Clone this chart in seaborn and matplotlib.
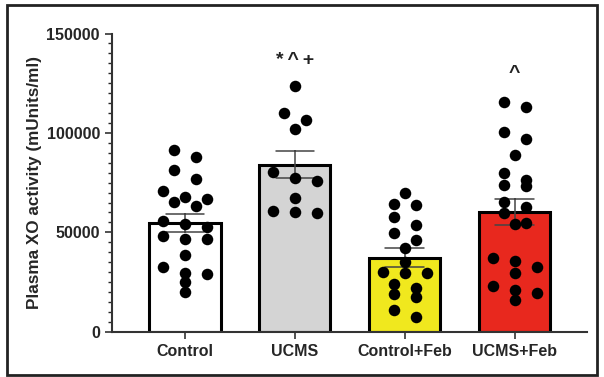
import numpy as np
import pandas as pd
import seaborn as sns
import matplotlib.pyplot as plt
from matplotlib.patches import Rectangle
from matplotlib.ticker import MultipleLocator

# ---- data ----
groups = ["Control", "UCMS", "Control+Feb", "UCMS+Feb"]
control = [91440, 87750, 81380, 76850, 66780, 70970, 67620, 63260, 65270, 52850, 54190,
           55540, 46640, 46640, 48320, 38590, 32720, 29030, 29700, 25170, 20130]
ucms = [123490, 110230, 106710, 102180, 80370, 77520, 75670, 67280, 59560, 60910, 60240]
control_feb = [69630, 63760, 64260, 57720, 53520, 49500, 46140, 41950, 35230, 29700,
               30200, 29700, 22150, 23990, 17620, 18960, 7380, 10910]
ucms_feb = [115770, 112920, 100340, 96980, 88760, 79700, 73320, 76510, 73830, 62920,
            65100, 59560, 54190, 54870, 36910, 32720, 35570, 29360, 22990, 20970,
            19630, 15940]
bar_colors = ["#ffffff", "#d4d4d4", "#f0e81e", "#e8281e"]
marks = {"UCMS": "*\u2009^\u2009+", "UCMS+Feb": "^"}
mark_y = {"UCMS": 136500, "UCMS+Feb": 130000}

df = pd.DataFrame({
    "group": np.repeat(groups, [len(control), len(ucms), len(control_feb), len(ucms_feb)]),
    "value": control + ucms + control_feb + ucms_feb,
})


def column_offsets(values, bin_h=5000, step=0.2):
    # prism-like column scatter: points close in value sit side by side
    order = np.argsort(values)[::-1]
    vals = np.asarray(values)[order]
    offs = np.zeros(len(vals))
    i = 0
    while i < len(vals):
        j = i
        while j + 1 < len(vals) and vals[i] - vals[j + 1] < bin_h:
            j += 1
        n = j - i + 1
        offs[i:j + 1] = (np.arange(n) - (n - 1) / 2) * step
        i = j + 1
    out = np.zeros(len(vals))
    out[order] = offs
    return out


df["x"] = df["group"].map(groups.index).astype(float)
for g in groups:
    m = df["group"] == g
    df.loc[m, "x"] += column_offsets(df.loc[m, "value"].values)

# ---- style ----
sns.set_style("ticks")
plt.rcParams["font.family"] = ["Liberation Sans", "DejaVu Sans"]
plt.rcParams["font.weight"] = "bold"

fig = plt.figure(figsize=(6.04, 3.77), dpi=100)
ax = fig.add_axes([0.185, 0.12, 0.787, 0.791])

sns.barplot(data=df, x="group", y="value", hue="group", palette=bar_colors,
            order=groups, hue_order=groups, saturation=1, errorbar="se",
            capsize=0.35, width=0.65, edgecolor="black", linewidth=2.2,
            err_kws={"color": "#444444", "linewidth": 1.1}, ax=ax)
ax.scatter(df["x"], df["value"], s=8.3 ** 2, color="black", zorder=4, linewidths=0)

for g, txt in marks.items():
    ax.text(groups.index(g), mark_y[g], txt, ha="center", va="center",
            fontsize=14, fontweight="bold", color="#222222")

ax.set_ylim(0, 150000)
ax.set_xlim(-0.665, 3.66)
ax.yaxis.set_major_locator(MultipleLocator(50000))
ax.yaxis.set_minor_locator(MultipleLocator(5000))
ax.set_xlabel("")
ax.set_ylabel("Plasma XO activity (mUnits/ml)", fontsize=12.3, fontweight="bold", labelpad=3)
ax.tick_params(axis="both", labelsize=11.5, color="#333333", width=1.2)
ax.tick_params(axis="y", which="major", length=5)
ax.tick_params(axis="y", which="minor", length=3, width=1)
ax.tick_params(axis="x", length=5)
for lab in ax.get_xticklabels() + ax.get_yticklabels():
    lab.set_fontweight("bold")
for s in ["left", "bottom"]:
    ax.spines[s].set_linewidth(1.5)
    ax.spines[s].set_color("#333333")
sns.despine(ax=ax)

# outer frame around the figure
fig.add_artist(Rectangle((0.012, 0.004), 0.976, 0.982, transform=fig.transFigure,
                         fill=False, edgecolor="#222222", linewidth=2))

fig.savefig("out.png", dpi=100)
